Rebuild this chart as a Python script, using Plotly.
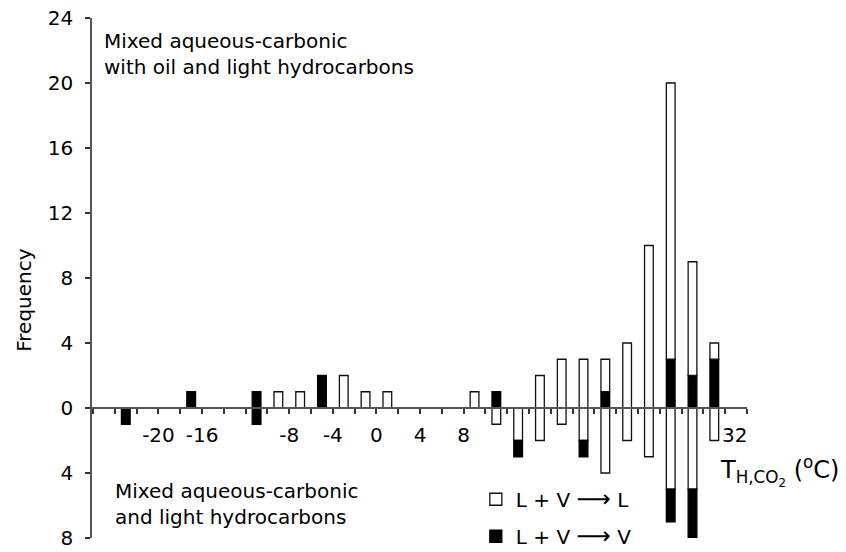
import plotly.graph_objects as go

# Bin centres (deg C) and frequencies
bin_centers = list(range(-23, 33, 2))
# Upper group: mixed aqueous-carbonic with oil and light hydrocarbons
oil_L = [0, 0, 0, 0, 0, 0, 0, 1, 1, 0, 2, 1, 1, 0, 0, 0, 1, 0, 0, 2, 3, 3, 2, 4, 10, 17, 7, 1]
oil_V = [0, 0, 0, 1, 0, 0, 1, 0, 0, 2, 0, 0, 0, 0, 0, 0, 0, 1, 0, 0, 0, 0, 1, 0, 0, 3, 2, 3]
# Lower group: mixed aqueous-carbonic and light hydrocarbons
aq_L = [0, 0, 0, 0, 0, 0, 0, 0, 0, 0, 0, 0, 0, 0, 0, 0, 0, 1, 2, 2, 1, 2, 4, 2, 3, 5, 5, 2]
aq_V = [1, 0, 0, 0, 0, 0, 1, 0, 0, 0, 0, 0, 0, 0, 0, 0, 0, 0, 1, 0, 0, 1, 0, 0, 0, 2, 3, 0]

x_tick_vals = [-20, -16, -8, -4, 0, 4, 8, 32]
x_tick_text = ["-20", "-16", "-8", "-4", "0", "4", "8", "\u00a0\u00a0\u00a032"]
y_tick_vals = [-8, -4, 0, 4, 8, 12, 16, 20, 24]
y_tick_text = [str(abs(v)) for v in y_tick_vals]

FONT = "DejaVu Sans, Liberation Sans, Arial, sans-serif"
FS = 20
BW = 0.8
ARROW = "<span style='font-size:24px'>\u27f6</span>"


def clean(vals, sign=1):
    return [sign * v if v else None for v in vals]


white = dict(color="white", line=dict(color="#111111", width=1.3))
black = dict(color="black", line=dict(color="black", width=1.3))

fig = go.Figure()
fig.add_trace(go.Bar(x=bin_centers, y=clean(oil_V), width=BW, marker=black,
                     name="L + V " + ARROW + " V", legendgroup="V", legendrank=2))
fig.add_trace(go.Bar(x=bin_centers, y=clean(oil_L), width=BW, marker=white,
                     name="L + V " + ARROW + " L", legendgroup="L", legendrank=1))
fig.add_trace(go.Bar(x=bin_centers, y=clean(aq_L, -1), width=BW, marker=white,
                     name="L + V \u27f6 L", legendgroup="L", showlegend=False))
fig.add_trace(go.Bar(x=bin_centers, y=clean(aq_V, -1), width=BW, marker=black,
                     name="L + V \u27f6 V", legendgroup="V", showlegend=False))

axis_col = "#555555"
fig.update_layout(
    width=846, height=552,
    barmode="relative",
    paper_bgcolor="white", plot_bgcolor="white",
    font=dict(family=FONT, size=FS, color="black"),
    margin=dict(l=92, r=99, t=18, b=14, autoexpand=False),
    xaxis=dict(
        range=[-26.1, 34], anchor="free", position=0.25,
        showline=True, linecolor=axis_col, linewidth=1.5,
        showgrid=False, zeroline=False,
        tickmode="array", tickvals=x_tick_vals, ticktext=x_tick_text,
        ticks="outside", ticklen=5, tickwidth=1.5, tickcolor="#333333",
        minor=dict(ticks="outside", ticklen=5, tickwidth=1.5, tickcolor="#333333",
                   dtick=2, tick0=0, showgrid=False),
        ticklabelstandoff=4,
        tickfont=dict(size=FS),
    ),
    yaxis=dict(
        range=[-8, 24], showline=True, linecolor=axis_col, linewidth=1.5,
        showgrid=False, zeroline=False,
        tickmode="array", tickvals=y_tick_vals, ticktext=y_tick_text,
        ticks="outside", ticklen=5, tickwidth=1.5, tickcolor="#333333",
        ticklabelstandoff=8, ticklabeloverflow="allow",
        tickfont=dict(size=FS),
    ),
    legend=dict(
        x=0.586, y=0.112, xanchor="left", yanchor="top",
        traceorder="grouped", tracegroupgap=8,
        font=dict(size=FS), bgcolor="rgba(0,0,0,0)",
    ),
    annotations=[
        dict(text="Mixed aqueous-carbonic<br>with oil and light hydrocarbons",
             xref="paper", yref="paper", x=0.015, y=0.93, xanchor="left", yanchor="middle",
             align="left", showarrow=False, font=dict(size=FS)),
        dict(text="Mixed aqueous-carbonic<br>and light hydrocarbons",
             xref="paper", yref="paper", x=0.032, y=0.065, xanchor="left", yanchor="middle",
             align="left", showarrow=False, font=dict(size=FS)),
        dict(text="T<sub>H,CO<sub>2</sub></sub> (<sup>o</sup>C)",
             xref="paper", yref="paper", x=0.956, y=0.128, xanchor="left", yanchor="middle",
             align="left", showarrow=False, font=dict(size=24)),
        dict(text="Frequency", textangle=-90,
             xref="paper", yref="paper", x=-0.104, y=0.458, xanchor="center", yanchor="middle",
             showarrow=False, font=dict(size=FS)),
    ],
)

fig.write_html("out.html", config={"displayModeBar": False},
               post_script="document.body.style.margin='0px';document.body.style.overflow='hidden';")
